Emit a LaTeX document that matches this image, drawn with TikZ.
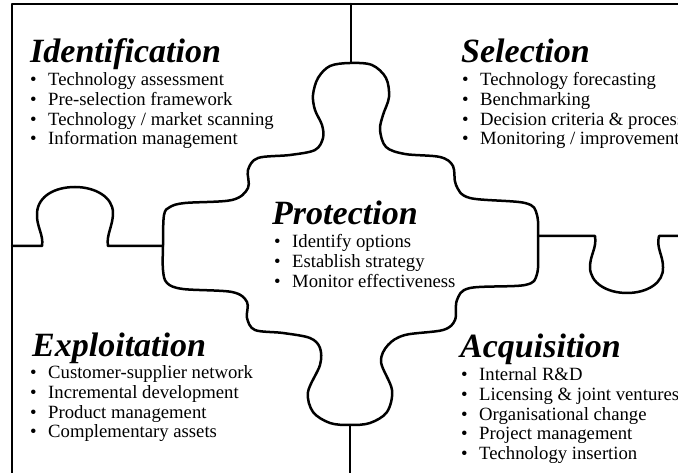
\documentclass[tikz,border=0pt]{standalone}
\usepackage{fontspec}
\setmainfont{Liberation Serif}
\usetikzlibrary{positioning}

% bullet with a fixed width so the items line up
\newcommand{\itm}{\makebox[18pt][l]{\textbullet}}

\tikzset{
  cut/.style={line width=2.5pt,line join=round,line cap=round},
  head/.style={font=\fontsize{34}{36}\selectfont\bfseries\itshape,inner sep=0pt,anchor=base west},
  items/.style={font=\fontsize{18.7}{19.7}\selectfont,align=left,inner sep=0pt},
}

\begin{document}
\begin{tikzpicture}[x=1pt,y=-1pt]
  \useasboundingbox (0,0) rectangle (678,473);

  % outer frame
  \draw[cut] (678,4) -- (12,4) -- (12,473);

  % dividers between the four outer pieces
  \draw[cut] (351,4) -- (351,63);
  \draw[cut] (350,425) -- (350,473);
  \draw[cut] (12,246) -- (42,246)
    .. controls (44,235) and (36,226) .. (37,213)
    .. controls (38,196) and (55,187) .. (75,187)
    .. controls (95,187) and (113,197) .. (113,213)
    .. controls (113,226) and (106,235) .. (108,246) -- (163,246);
  \draw[cut] (538,236) -- (595,236)
    .. controls (597,248) and (590,255) .. (590,267)
    .. controls (590,283) and (607,293) .. (627,293)
    .. controls (647,293) and (664,283) .. (663,267)
    .. controls (663,255) and (656,248) .. (659,236) -- (678,236);

  % middle piece
  \draw[cut] plot[smooth cycle,tension=0.55] coordinates {
    (350,63) (372,65) (386,78) (389,97) (383,115) (380,130) (386,147)
    (405,154) (440,157) (453,166) (456,185) (470,198) (525,203)
    (537,215) (538,245) (537,274) (525,285) (470,288) (457,300)
    (455,320) (443,330) (405,335) (388,345) (381,362) (392,390)
    (387,412) (370,423) (350,425) (330,423) (313,412) (308,392)
    (320,365) (320,348) (310,338) (283,333) (255,330) (247,318)
    (247,302) (232,292) (183,289) (167,283) (163,270) (163,245)
    (164,215) (170,207) (185,203) (232,200) (248,188) (248,170)
    (258,158) (290,155) (315,150) (323,138) (322,125) (315,110)
    (313,95) (318,78) (330,66)};

  % headings
  \node[head] (ident)   at (30,63)   {Identification};
  \node[head] (select)  at (461,63)  {Selection};
  \node[head] (protect) at (272,225) {Protection};
  \node[head] (exploit) at (32,356)  {Exploitation};
  \node[head] (acquire) at (460,358) {Acquisition};

  % item lists
  \node[items,below right=9.5pt and 0pt of ident.base west] (identlist) {%
    \itm Technology assessment\\
    \itm Pre-selection framework\\
    \itm Technology / market scanning\\
    \itm Information management};
  \node[items,below right=9.5pt and 1pt of select.base west] (selectlist) {%
    \itm Technology forecasting\\
    \itm Benchmarking\\
    \itm Decision criteria \& process\\
    \itm Monitoring / improvement};
  \node[items,below right=9.5pt and 2pt of protect.base west] (protectlist) {%
    \itm Identify options\\
    \itm Establish strategy\\
    \itm Monitor effectiveness};
  \node[items,below right=9.5pt and -2pt of exploit.base west] (exploitlist) {%
    \itm Customer-supplier network\\
    \itm Incremental development\\
    \itm Product management\\
    \itm Complementary assets};
  \node[items,below right=9.5pt and 1pt of acquire.base west] (acquirelist) {%
    \itm Internal R\&D\\
    \itm Licensing \& joint ventures\\
    \itm Organisational change\\
    \itm Project management\\
    \itm Technology insertion};
\end{tikzpicture}
\end{document}
